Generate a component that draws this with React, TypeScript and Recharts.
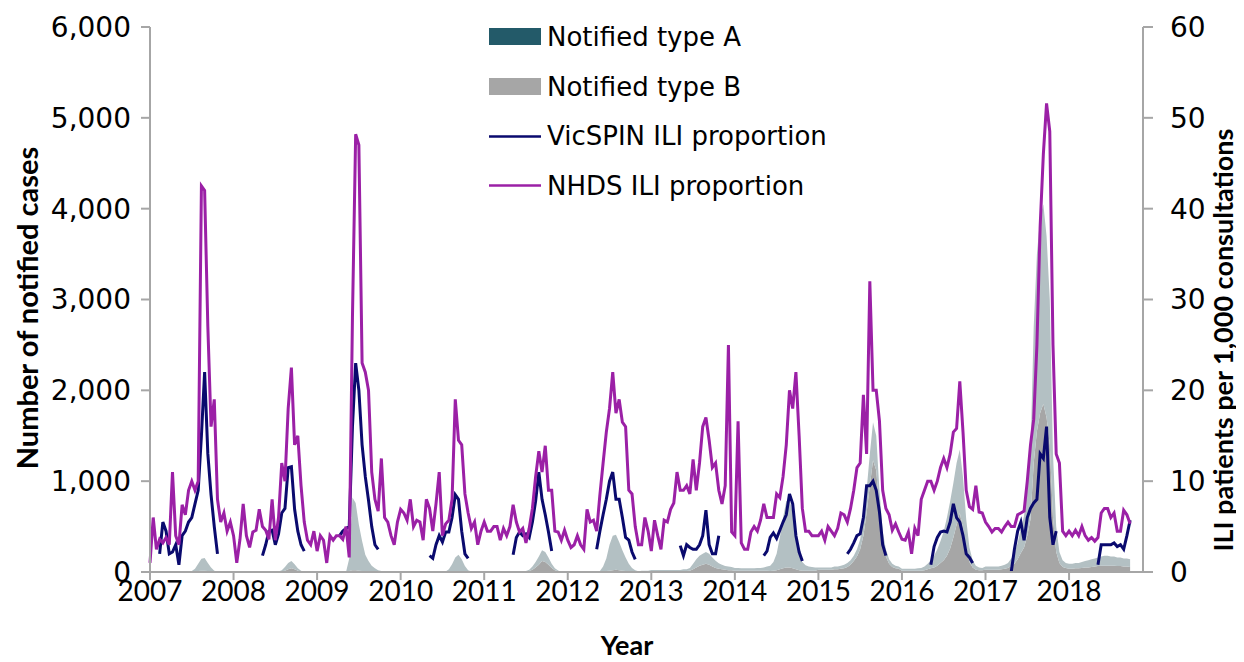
import { ComposedChart, Area, Line, XAxis, YAxis, Legend } from 'recharts'

// fortnightly readings, 26 per year, starting at the first fortnight of 2007
const years = [2007, 2008, 2009, 2010, 2011, 2012, 2013, 2014, 2015, 2016, 2017, 2018]
const caseTicks = [0, 1000, 2000, 3000, 4000, 5000, 6000]
const iliTicks = [0, 10, 20, 30, 40, 50, 60]

// notified cases, type A (left axis)
const typeA = [
  0, 0, 0, 0, 0, 0, 0, 0, 0, 0, 0, 0, 5, 10, 30, 80, 130, 140, 90, 45, 15, 5, 0, 0, 0, 0,
  0, 0, 0, 0, 0, 0, 0, 0, 0, 0, 0, 0, 0, 0, 5, 15, 40, 70, 80, 55, 25, 10, 0, 0, 0, 0,
  0, 0, 0, 0, 0, 0, 0, 0, 0, 0, 140, 800, 740, 505, 330, 185, 115, 65, 38, 18, 10, 5, 0, 0, 0, 0,
  0, 0, 0, 0, 0, 0, 0, 0, 0, 0, 0, 0, 0, 0, 5, 30, 80, 150, 180, 130, 60, 20, 5, 0, 0, 0,
  0, 0, 0, 0, 0, 0, 0, 0, 0, 0, 0, 0, 0, 5, 15, 35, 60, 90, 120, 110, 80, 45, 20, 8, 0, 0,
  5, 5, 5, 5, 5, 5, 5, 5, 5, 5, 10, 55, 140, 285, 380, 385, 310, 225, 150, 85, 42, 18, 8, 10, 10, 10,
  15, 15, 15, 15, 15, 15, 15, 15, 15, 15, 20, 20, 30, 60, 90, 110, 120, 130, 120, 100, 80, 60, 50, 40, 40, 35,
  30, 30, 25, 25, 25, 25, 25, 30, 30, 35, 45, 60, 95, 180, 350, 560, 730, 750, 610, 370, 180, 95, 60, 45, 40, 35,
  25, 25, 25, 25, 25, 30, 30, 35, 40, 45, 50, 60, 80, 110, 160, 250, 350, 420, 380, 240, 130, 80, 50, 35, 30, 25,
  20, 20, 20, 20, 20, 25, 30, 40, 60, 90, 130, 180, 240, 320, 420, 520, 600, 680, 700, 560, 330, 160, 80, 45, 30, 25,
  35, 35, 35, 35, 35, 40, 45, 55, 85, 110, 180, 270, 350, 500, 720, 1500, 1950, 2150, 2200, 2000, 1600, 700, 280, 120, 75, 55,
  55, 55, 60, 60, 65, 70, 80, 85, 90, 95, 100, 110, 110, 100, 100, 95, 95, 90, 90, 85,
]

// notified cases, type B (left axis)
const typeB = [
  0, 0, 0, 0, 0, 0, 0, 0, 0, 0, 0, 0, 0, 0, 5, 10, 15, 15, 10, 5, 0, 0, 0, 0, 0, 0,
  0, 0, 0, 0, 0, 0, 0, 0, 0, 0, 0, 0, 0, 0, 0, 5, 15, 30, 40, 30, 15, 5, 0, 0, 0, 0,
  0, 0, 0, 0, 0, 0, 0, 0, 0, 0, 10, 20, 20, 15, 10, 5, 5, 5, 2, 2, 0, 0, 0, 0, 0, 0,
  0, 0, 0, 0, 0, 0, 0, 0, 0, 0, 0, 0, 0, 0, 0, 0, 5, 10, 10, 10, 5, 0, 0, 0, 0, 0,
  0, 0, 0, 0, 0, 0, 0, 0, 0, 0, 0, 0, 0, 5, 10, 25, 50, 80, 120, 110, 80, 45, 20, 8, 0, 0,
  0, 0, 0, 0, 0, 0, 0, 0, 0, 0, 0, 5, 10, 15, 20, 25, 20, 15, 10, 5, 3, 2, 0, 5, 5, 5,
  8, 8, 8, 8, 8, 8, 8, 8, 8, 8, 10, 10, 15, 30, 50, 70, 80, 90, 80, 60, 45, 35, 30, 25, 20, 20,
  15, 15, 15, 15, 15, 15, 15, 15, 15, 15, 15, 10, 15, 20, 30, 40, 50, 50, 40, 30, 20, 15, 15, 15, 15, 15,
  25, 25, 25, 25, 25, 30, 30, 35, 40, 55, 80, 120, 170, 250, 400, 650, 950, 1230, 1120, 660, 320, 170, 90, 55, 40, 35,
  15, 15, 15, 15, 15, 15, 15, 20, 30, 40, 50, 70, 100, 130, 180, 260, 380, 520, 650, 480, 250, 110, 50, 25, 20, 20,
  25, 25, 25, 25, 25, 30, 35, 45, 65, 90, 140, 210, 270, 400, 580, 1200, 1550, 1750, 1850, 1700, 1400, 600, 220, 100, 55, 45,
  35, 35, 40, 40, 45, 50, 50, 55, 60, 65, 70, 70, 70, 70, 70, 65, 65, 60, 60, 55,
]

// VicSPIN ILI per 1,000 consultations (right axis), only reported in season
const vicspin: (number | null)[] = [
  null, null, null, 2, 5.5, 4.5, 2, 2.2, 3, 0.8, 4, 4.5, 5.5, 6, 7.5, 9, 15, 22, 13, 8.5, 5, 2, null, null, null, null,
  null, null, null, null, null, null, null, null, null, 1.8, 3, 4.5, 4.6, 3, 4.2, 6.5, 7, 11.5, 11.6, 6.9, 4.5, 3, 2.3, null, null, null,
  null, null, null, null, null, null, null, 4, 4.5, 4.8, 5, 16, 23, 20, 14, 10.5, 7.9, 5, 3, 2.5, null, null, null, null, null, null,
  null, null, null, null, null, null, null, null, null, 1.8, 1.5, 3, 4, 3.3, 4.4, 4.4, 6, 8.5, 8, 4.5, 2, 1.5, null, null, null, null,
  null, null, null, null, null, null, null, null, null, 1.9, 3.8, 4.4, 4, 4.2, 3.8, 5.5, 7.8, 11, 8, 6.3, 4.4, 2.3, null, null, null, null,
  null, null, null, null, null, null, null, null, null, 2.5, 4.5, 6.3, 8, 10, 11, 8, 8, 6, 3.8, 3.5, 2.2, 1.4, null, null, null, null,
  null, null, null, null, null, null, null, null, null, 2.9, 1.8, 3, 2.7, 2.5, 2.5, 3, 4, 6.8, 3, 2, 2, 4, null, null, null, null,
  null, null, null, null, null, null, null, null, null, 1.8, 2.3, 3.8, 4.3, 3.7, 4.6, 5.5, 6.3, 8.6, 7.5, 4, 2.2, 1.2, null, null, null, null,
  null, null, null, null, null, null, null, null, null, 2, 2.5, 3.2, 4, 4.2, 6, 9.5, 9.5, 10, 9, 6.6, 3, 1.8, null, null, null, null,
  null, null, null, null, null, null, null, null, null, 0.8, 2.8, 3.8, 4.4, 4.5, 4.4, 5.5, 7.5, 6, 5.5, 4, 2, 1.6, 1, null, null, null,
  null, null, null, null, null, null, null, null, 0, 2.5, 4.5, 5.5, 3.5, 6, 7, 7.6, 8, 13, 12.5, 16, 6, 3, 4.5, null, null, null,
  null, null, null, null, null, null, null, null, null, 0.8, 3, 3, 3, 3, 3.2, 2.8, 3, 2.5, 4, 5.7,
]

// NHDS ILI per 1,000 consultations (right axis)
const nhds = [
  1, 6, 2.5, 3.6, 3.2, 3.8, 3, 11, 4, 3, 7.4, 6.3, 9, 10, 9, 10, 42.5, 42, 27, 16, 19, 8, 5.5, 6.5, 4.5, 5.5,
  4, 1, 3.6, 7.5, 4, 2.7, 4.4, 4.6, 6.9, 5, 4.6, 3.6, 8, 3.5, 6, 12, 10, 18, 22.5, 14, 15, 9.5, 5.5, 3.5, 3, 4.5,
  2.3, 4, 3.5, 1, 4, 3.5, 4, 4, 3.6, 5, 1.6, 28, 48.2, 47, 23, 22, 20, 11, 8, 6.7, 12.5, 6, 5.5, 4, 3, 5.5,
  6.9, 6.5, 5.7, 8, 5, 5.7, 5.5, 3.5, 8, 7, 4.5, 7.5, 11, 4, 5.3, 5.7, 8, 19, 14.5, 14, 8.6, 6.5, 4.8, 5.5, 3, 4.5,
  5.5, 4.5, 4.5, 5, 5, 3.5, 4.8, 4, 5, 7.4, 5.5, 4.4, 4.8, 3.2, 4.8, 7, 10.5, 13.3, 11, 13.9, 9, 9, 4.5, 4.4, 3.5, 4.6,
  3.5, 2.7, 3, 4, 3, 2.5, 6.9, 5.5, 5.7, 4.5, 8.5, 12, 15.4, 18, 22, 17.5, 19, 16.5, 16, 9, 8.6, 5, 3, 3, 6, 4.5,
  2.3, 5.7, 4, 2.5, 5.7, 5.5, 6.9, 7.6, 11, 9, 9, 9.5, 8.6, 12.4, 9, 12, 16, 17, 14.5, 11.5, 12, 9, 7.5, 9.5, 25, 4.4,
  4, 16.6, 3.2, 2.5, 2.5, 4.4, 5, 4.5, 5.7, 7.5, 6, 6, 6, 8.6, 8.2, 10.5, 14, 20, 18, 22, 15, 7, 4.5, 4.5, 4, 4,
  4, 4.5, 3.5, 5, 4.5, 4, 4.8, 6.5, 6.3, 5.5, 7, 9, 11.5, 12, 19.5, 13, 32, 20, 20, 16.6, 9, 7, 6.3, 4.6, 5.3, 4.4,
  3.6, 3.5, 4.4, 2, 4.8, 4, 8, 9, 10, 10, 9, 10, 11.5, 12.5, 11.5, 13, 15.4, 15.8, 21, 15.4, 9, 7.2, 6.9, 9.5, 6.6, 6.5,
  5.5, 5, 4.4, 4.8, 4.8, 4.4, 5, 5.5, 5, 5, 6.3, 6.5, 6.7, 10, 14, 16.8, 25, 38, 46, 51.6, 48.5, 25, 13, 12, 4.5, 4,
  4.5, 4, 4.6, 4, 5, 4, 3.5, 3.8, 3.4, 3.8, 6.5, 7, 7, 6, 6.5, 4.5, 4.5, 6.8, 6.3, 5.3,
]

const data = nhds.map((v, i) => ({
  t: 2007 + i / 26,
  typeA: typeA[i],
  typeB: typeB[i],
  vicspin: vicspin[i],
  nhds: v,
}))

const legendItems = [
  { name: 'Notified type A', color: '#235a69', box: true },
  { name: 'Notified type B', color: '#a6a6a6', box: true },
  { name: 'VicSPIN ILI proportion', color: '#0a0a6e', box: false },
  { name: 'NHDS ILI proportion', color: '#9b20a6', box: false },
]

function LegendBox() {
  return (
    <div style={{ fontFamily: 'DejaVu Sans', fontSize: 26, color: '#000' }}>
      {legendItems.map((item) => (
        <div key={item.name} style={{ display: 'flex', alignItems: 'center', height: 49.7 }}>
          <svg width={52} height={17} style={{ marginRight: 6, flexShrink: 0 }}>
            {item.box ? (
              <rect x={0} y={0} width={52} height={17} fill={item.color} />
            ) : (
              <line x1={0} y1={8.5} x2={52} y2={8.5} stroke={item.color} strokeWidth={2.5} />
            )}
          </svg>
          <span style={{ whiteSpace: 'nowrap' }}>{item.name}</span>
        </div>
      ))}
    </div>
  )
}

const axisTitle = (text: string, dx: number, dy: number, rotate: boolean, size: number) => (props: any) => {
  const vb = props.viewBox
  const cx = vb.x + dx
  const cy = vb.y + dy
  return (
    <text
      x={cx}
      y={cy}
      transform={rotate ? `rotate(-90, ${cx}, ${cy})` : undefined}
      textAnchor="middle"
      dominantBaseline="central"
      fontFamily="Lato"
      fontWeight="bold"
      fontSize={size}
      fill="#000"
    >
      {text}
    </text>
  )
}

const axisColor = '#a6a6a6'

export default function App() {
  return (
    <ComposedChart width={1236} height={654} data={data} margin={{ top: 19, right: 0, bottom: 0, left: 0 }}>
      <XAxis
        type="number"
        dataKey="t"
        domain={[2007, 2018.885]}
        ticks={years}
        tickFormatter={(v) => String(v)}
        height={90}
        stroke={axisColor}
        axisLine={{ strokeWidth: 2 }}
        tickLine={{ strokeWidth: 2 }}
        tickSize={8}
        tickMargin={1}
        tick={{ fill: '#000', fontSize: 28, fontFamily: 'Lato' }}
        label={axisTitle('Year', 477, 72, false, 27)}
      />
      <YAxis
        yAxisId="left"
        domain={[0, 6000]}
        ticks={caseTicks}
        width={142}
        stroke={axisColor}
        axisLine={{ strokeWidth: 2 }}
        tickLine={{ strokeWidth: 2 }}
        tickSize={9}
        tickMargin={10}
        tickFormatter={(v) => v.toLocaleString('en-US')}
        tick={{ fill: '#000', fontSize: 28, fontFamily: 'DejaVu Sans' }}
        label={axisTitle('Number of notified cases', 18, 281, true, 29)}
      />
      <YAxis
        yAxisId="right"
        orientation="right"
        domain={[0, 60]}
        ticks={iliTicks}
        width={101}
        stroke={axisColor}
        axisLine={{ strokeWidth: 2 }}
        tickLine={{ strokeWidth: 2 }}
        tickSize={10}
        tickMargin={17}
        tick={{ fill: '#000', fontSize: 28, fontFamily: 'DejaVu Sans' }}
        label={axisTitle('ILI patients per 1,000 consultations', 79, 313, true, 27)}
      />
      <Legend
        content={<LegendBox />}
        layout="vertical"
        align="center"
        verticalAlign="middle"
        wrapperStyle={{ left: 481, top: 4, width: 420 }}
      />
      <Area
        yAxisId="left"
        type="linear"
        dataKey="typeB"
        stackId="notified"
        stroke="none"
        fill="#a6a6a6"
        fillOpacity={1}
        isAnimationActive={false}
      />
      <Area
        yAxisId="left"
        type="linear"
        dataKey="typeA"
        stackId="notified"
        stroke="none"
        fill="#b3c0c3"
        fillOpacity={1}
        isAnimationActive={false}
      />
      <Line
        yAxisId="right"
        type="linear"
        dataKey="vicspin"
        stroke="#0a0a6e"
        strokeWidth={3}
        dot={false}
        isAnimationActive={false}
      />
      <Line
        yAxisId="right"
        type="linear"
        dataKey="nhds"
        stroke="#9b20a6"
        strokeWidth={3}
        dot={false}
        isAnimationActive={false}
      />
    </ComposedChart>
  )
}
